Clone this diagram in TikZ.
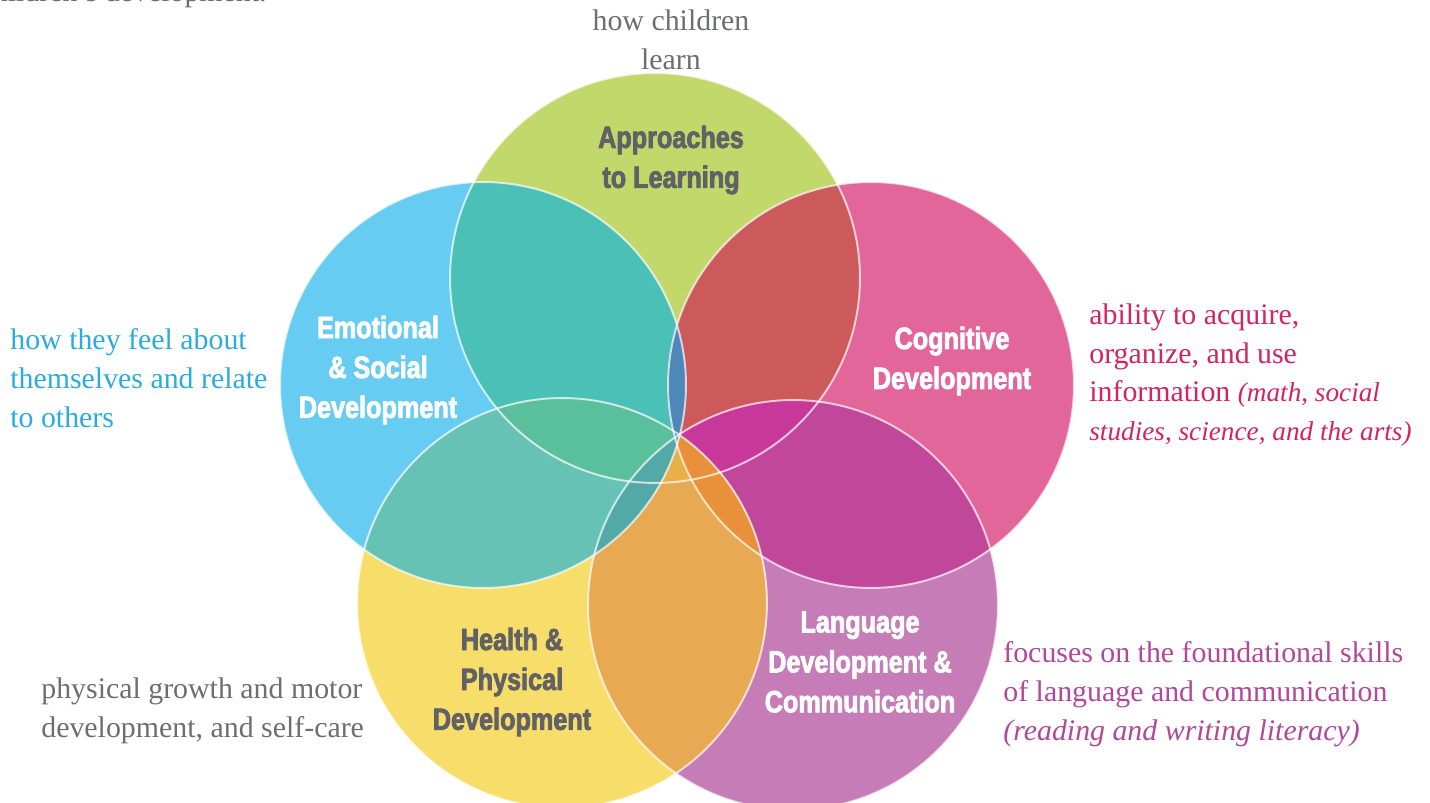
\documentclass[tikz,border=0pt]{standalone}
\usepackage{fontspec}
\setmainfont{Liberation Serif}
\newfontfamily\topicfont{Liberation Sans}[FakeStretch=0.82,FakeBold=2.5]

\definecolor{cgreen}{HTML}{C2D86B}
\definecolor{cblue}{HTML}{66CCF2}
\definecolor{cpink}{HTML}{E3669A}
\definecolor{cyellow}{HTML}{F7DE6A}
\definecolor{cpurple}{HTML}{C67DB7}
\definecolor{txgrey}{HTML}{6D6E72}
\definecolor{txdark}{HTML}{626166}
\definecolor{txblue}{HTML}{2AABE2}
\definecolor{txpink}{HTML}{D4245F}
\definecolor{txpurple}{HTML}{B2479B}

% circles, pixel units
\def\cirG{(655,278) circle[radius=4.1cm]}
\def\cirB{(483,385) circle[radius=4.06cm]}
\def\cirP{(871,385) circle[radius=4.06cm]}
\def\cirY{(562,603) circle[radius=4.1cm]}
\def\cirU{(793,605) circle[radius=4.1cm]}

\newcommand\lensfill[3]{\begin{scope}\clip #1;\fill[#3] #2;\end{scope}}
\newcommand\lensfilltwo[4]{\begin{scope}\clip #1;\clip #2;\fill[#4] #3;\end{scope}}

\tikzset{
  rim/.style={draw=white, draw opacity=0.7, line width=1.1pt},
  topic/.style={font=\topicfont\bfseries\fontsize{17.5}{22.7}\selectfont, align=center},
  note/.style={font=\fontsize{17}{22.1}\selectfont, align=left, inner sep=0pt},
}

\begin{document}
\begin{tikzpicture}[x=0.02cm, y=-0.02cm]
    \useasboundingbox (0,0) rectangle (1430,803);

    % the five circles
    \fill[cgreen] \cirG;
    \fill[cblue] \cirB;
    \fill[cpink] \cirP;
    \fill[cyellow] \cirY;
    \fill[cpurple] \cirU;

    % pairs
    \lensfill{\cirG}{\cirB}{fill={rgb,255:red,75;green,192;blue,183}}
    \lensfill{\cirG}{\cirP}{fill={rgb,255:red,205;green,90;blue,91}}
    \lensfill{\cirP}{\cirU}{fill={rgb,255:red,192;green,71;blue,154}}
    \lensfill{\cirU}{\cirY}{fill={rgb,255:red,231;green,170;blue,82}}
    \lensfill{\cirY}{\cirB}{fill={rgb,255:red,102;green,194;blue,181}}
    \lensfill{\cirB}{\cirP}{fill={rgb,255:red,78;green,136;blue,184}}
    \lensfill{\cirB}{\cirU}{fill={rgb,255:red,82;green,169;blue,168}}
    \lensfill{\cirP}{\cirY}{fill={rgb,255:red,232;green,145;blue,58}}
    \lensfill{\cirG}{\cirY}{fill={rgb,255:red,233;green,176;blue,72}}
    \lensfill{\cirG}{\cirU}{fill={rgb,255:red,200;green,56;blue,154}}

    % triples
    \lensfilltwo{\cirG}{\cirB}{\cirY}{fill={rgb,255:red,90;green,191;blue,156}}
    \lensfilltwo{\cirG}{\cirB}{\cirP}{fill={rgb,255:red,78;green,136;blue,184}}
    \lensfilltwo{\cirG}{\cirP}{\cirU}{fill={rgb,255:red,200;green,56;blue,154}}
    \lensfilltwo{\cirG}{\cirY}{\cirU}{fill={rgb,255:red,233;green,176;blue,72}}
    \lensfilltwo{\cirP}{\cirU}{\cirY}{fill={rgb,255:red,232;green,145;blue,58}}
    \lensfilltwo{\cirB}{\cirY}{\cirU}{fill={rgb,255:red,82;green,169;blue,168}}

    % rims
    \draw[rim] \cirG;
    \draw[rim] \cirB;
    \draw[rim] \cirP;
    \draw[rim] \cirY;
    \draw[rim] \cirU;

    % circle titles
    \node[topic, text=txdark] (tLearn) at (671,160) {Approaches\\to Learning};
    \node[topic, text=white] (tEmotion) at (378,370) {Emotional\\\& Social\\Development};
    \node[topic, text=white] (tCognitive) at (952,361) {Cognitive\\Development};
    \node[topic, text=txdark] (tHealth) at (512,682) {Health \&\\Physical\\Development};
    \node[topic, text=white] (tLanguage) at (860,662) {Language\\Development \&\\Communication};

    % notes
    \node[note, text=txgrey, anchor=south east] (dTop) at (267,8) {children's development.};
    \node[note, text=txgrey, align=center] (dLearn) at (671,40) {how children\\learn};
    \node[note, text=txblue, anchor=west] (dEmotion) at (10,378) {how they feel about\\themselves and relate\\to others};
    \node[note, text=txpink, anchor=west] (dCognitive) at (1089,375)
        {ability to acquire,\\organize, and use\\information {\fontsize{15.5}{22.1}\selectfont\textit{(math, social}}\\{\fontsize{15.5}{22.1}\selectfont\textit{studies, science, and the arts)}}};
    \node[note, text=txgrey, anchor=west] (dHealth) at (41,711) {physical growth and motor\\development, and self-care};
    \node[note, text=txpurple, anchor=west] (dLanguage) at (1003,694)
        {focuses on the foundational skills\\of language and communication\\\textit{(reading and writing literacy)}};
\end{tikzpicture}
\end{document}
